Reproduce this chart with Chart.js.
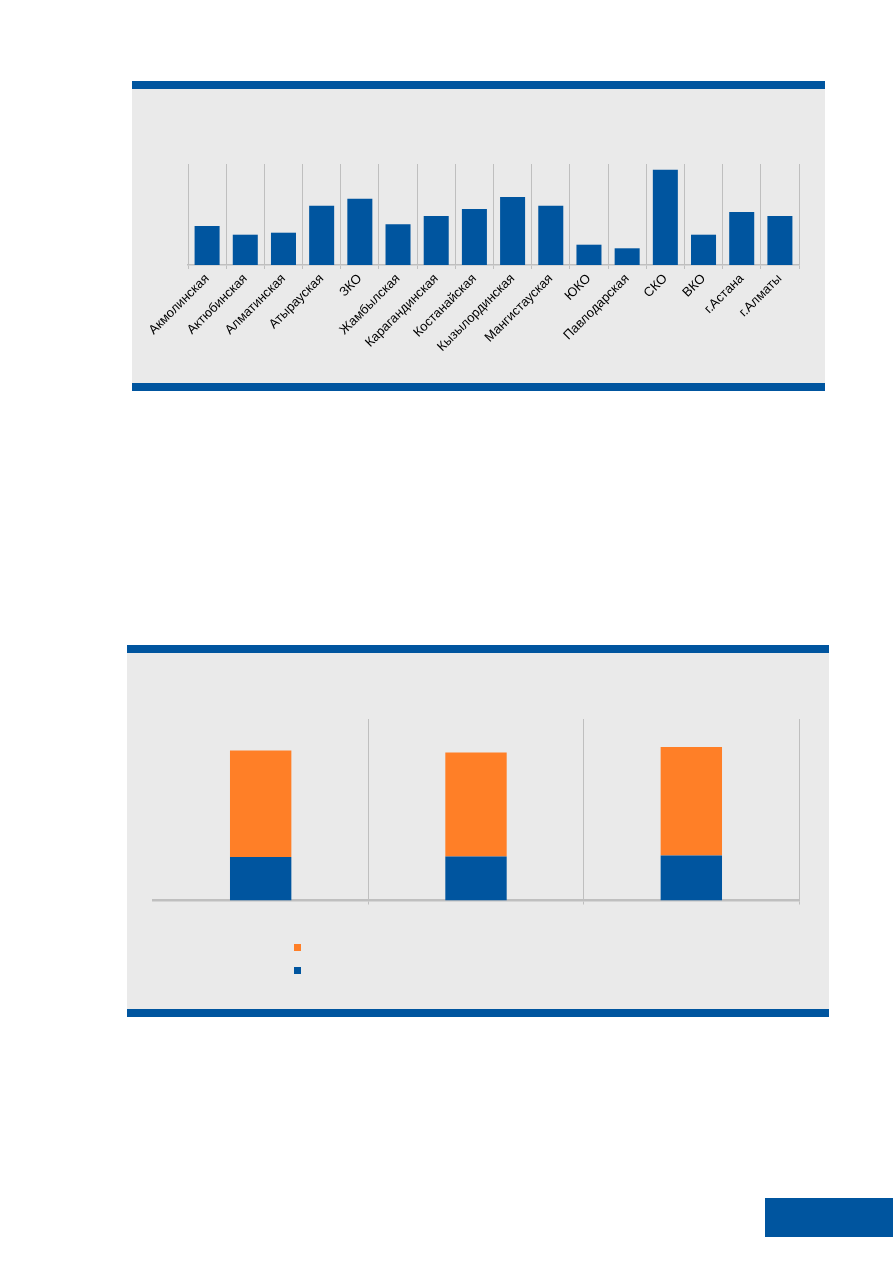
<!DOCTYPE html>
<html lang="ru">
<head>
<meta charset="utf-8">
<title>Регионы</title>
<script src="https://cdn.jsdelivr.net/npm/chart.js@4.4.1/dist/chart.umd.min.js"></script>
<style>
    html, body { margin: 0; padding: 0; background: #fff; }
    body { width: 893px; height: 1263px; position: relative; overflow: hidden; font-family: "Liberation Sans", Arial, sans-serif; }
    .box { position: absolute; background: #eaeaea; border-top: 8px solid #00559f; border-bottom: 8px solid #00559f; }
    #box1 { left: 132px; top: 81px; width: 693px; height: 294px; }
    #box2 { left: 127px; top: 645px; width: 702px; height: 356px; }
    .box canvas { position: absolute; left: 0; top: 0; }
    #corner { position: absolute; left: 765px; top: 1198px; width: 128px; height: 39px; background: #00559f; }
</style>
</head>
<body>
<div class="box" id="box1"><canvas id="grafico1"></canvas></div>
<div class="box" id="box2"><canvas id="grafico2"></canvas></div>
<div id="corner"></div>

<script>
// данные (шкалы на оригинале нет, единицы условные)
const regiony = ['Акмолинская', 'Актюбинская', 'Алматинская', 'Атырауская', 'ЗКО', 'Жамбылская',
    'Карагандинская', 'Костанайская', 'Кызылординская', 'Мангистауская', 'ЮКО', 'Павлодарская',
    'СКО', 'ВКО', 'г.Астана', 'г.Алматы'];
const znacheniyaRegionov = [39, 30.3, 32.3, 59.3, 66.3, 40.7, 49, 56, 68, 59.3, 20.3, 16.7, 95.3, 30.3, 53, 49];
const maxRegionov = 101;

const gody = ['', '', ''];
const nizhnyaya = [43.5, 44, 45];
const verhnyaya = [106, 103.5, 108];
const maxGodov = 181;

const SINIY = '#00559f';
const ORANZH = '#ff7f27';
const SERYY = '#bfbfbf';

Chart.defaults.font.family = '"Liberation Sans", Arial, sans-serif';
Chart.defaults.animation = false;
Chart.defaults.devicePixelRatio = 1;

function setCanvas(id, w, h) {
    const c = document.getElementById(id);
    c.width = w; c.height = h;
    c.style.width = w + 'px'; c.style.height = h + 'px';
    return c.getContext('2d');
}

// первый график - по регионам
new Chart(setCanvas('grafico1', 693, 294), {
    type: 'bar',
    data: {
        labels: regiony,
        datasets: [{
            data: znacheniyaRegionov,
            backgroundColor: SINIY,
            barPercentage: 0.655,
            categoryPercentage: 1
        }]
    },
    options: {
        responsive: false,
        layout: { padding: { left: 56, right: 26, top: 75, bottom: 0 } },
        plugins: { legend: { display: false }, tooltip: { enabled: false } },
        scales: {
            x: {
                grid: { color: SERYY, lineWidth: 1, offset: true, tickLength: 4 },
                border: { color: SERYY, width: 1.5 },
                ticks: {
                    autoSkip: false, minRotation: 45, maxRotation: 45,
                    color: '#000', padding: 2,
                    font: { size: 13 }
                },
                afterFit: (scale) => { scale.height = 118; }
            },
            y: { display: false, min: 0, max: maxRegionov }
        }
    }
});

// квадратики легенды (подписей на оригинале нет)
const legendaKvadraty = {
    id: 'legendaKvadraty',
    afterDraw(chart) {
        const ctx = chart.ctx;
        const ds = chart.data.datasets;
        // сверху оранжевый, снизу синий
        [ds[1], ds[0]].forEach((d, i) => {
            ctx.fillStyle = d.backgroundColor;
            ctx.fillRect(167, 291 + i * 23, 7, 7);
        });
    }
};

// второй график - составные столбцы
new Chart(setCanvas('grafico2', 702, 356), {
    type: 'bar',
    data: {
        labels: gody,
        datasets: [
            { data: nizhnyaya, backgroundColor: SINIY, barPercentage: 0.285, categoryPercentage: 1 },
            { data: verhnyaya, backgroundColor: ORANZH, barPercentage: 0.285, categoryPercentage: 1 }
        ]
    },
    options: {
        responsive: false,
        layout: { padding: { left: 26, right: 30, top: 66, bottom: 0 } },
        plugins: { legend: { display: false }, tooltip: { enabled: false } },
        scales: {
            x: {
                stacked: true,
                grid: {
                    offset: true, tickLength: 4, lineWidth: 1,
                    color: (c) => c.index === 0 ? 'rgba(0,0,0,0)' : SERYY
                },
                border: { color: SERYY, width: 2.5 },
                ticks: { display: false },
                afterFit: (scale) => { scale.height = 108.5; }
            },
            y: { display: false, stacked: true, min: 0, max: maxGodov }
        }
    },
    plugins: [legendaKvadraty]
});
</script>
</body>
</html>
